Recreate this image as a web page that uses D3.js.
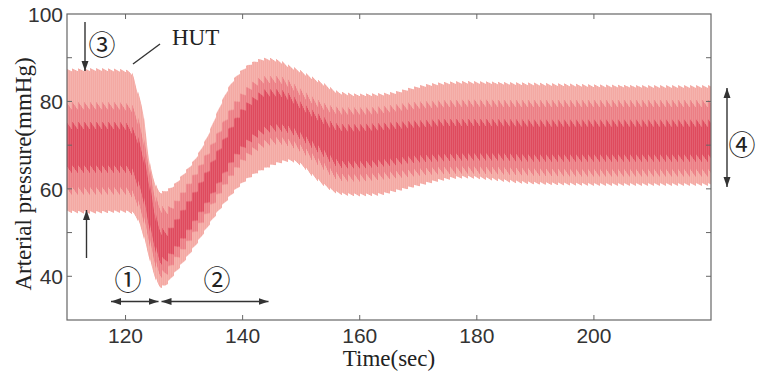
<!DOCTYPE html>
<html><head><meta charset="utf-8">
<script src="https://cdn.jsdelivr.net/npm/d3@7"></script>
<style>body{margin:0;background:#fff}</style>
</head><body>
<svg id="c" width="757" height="374"></svg>
<script>
// ---- data ----
const time      = [110,114,118,120,121,122,123,124,125,126,127,128,130,132,134,136,138,140,142,144,146,148,150,152,154,156,158,160,163,166,169,172,175,178,182,186,190,195,200,205,210,215,220];
const upper     = [87.2,87.3,87.2,87.0,86.5,82.5,77.5,67,61.5,59.2,59.6,60.5,63.5,67,72,78.5,84,87.2,89,89.7,89.3,88,86.8,85.3,83.8,82.2,81.7,81.5,81.6,82,83,83.8,84.2,84.4,84.3,84.1,84,83.8,83.6,83.5,83.4,83.4,83.4];
const lower     = [54.8,54.6,54.8,54.8,54.6,53.2,49.5,44.5,40,37.6,38.2,40,43.5,47.2,51.3,55.2,58.6,61.4,63.4,64.8,65.9,66.5,65.5,63,60.8,59.2,58.7,58.6,58.7,59.5,60.5,61.5,62.3,62.7,62.3,61.7,61.3,61.1,61,61,61,61,61];
const midUpper  = [79,79,79,78.8,78.5,76,71.5,65,58.5,55.5,55,56,59.5,63.5,68,73,78,81.5,84,85,85,84,82,80.2,78.8,78,77.8,77.8,78,78.5,79,79.3,79.5,79.6,79.6,79.5,79.5,79.5,79.5,79.5,79.5,79.5,79.5];
const midLower  = [59.5,59.5,59.5,59.5,59,57,53.5,48.5,43.5,40.5,41,43,46.5,50.5,54.5,59,63,66.5,69,70.5,71,70.5,69.2,67.2,65,63,62.5,62.5,62.8,63.2,63.6,64,64.2,64.3,64.2,64,63.8,63.7,63.6,63.6,63.6,63.6,63.6];
const coreUpper = [74.5,74.5,74.5,74.3,73.5,71.5,67.5,61.5,54.5,50.5,50,51.5,55.5,59.5,64,69,74,78,80.5,82,82,81,79,77.2,75.5,74.2,74,74,74.2,74.5,74.8,75,75.2,75.2,75.2,75.1,75,75,75,75,75,75,75];
const coreLower = [64.5,64.5,64.5,64.5,64,61.5,58,52,47,43.5,44,45.5,49,53,57,61.5,66,69.5,72,73.5,74,73.5,72,70,68,66,65.5,65.5,65.8,66.2,66.7,67,67.2,67.3,67.3,67.2,67,67,67,67,67,67,67];
const xTicks = [120,140,160,180,200];
const yTicks = [40,50,60,70,80,90];
const yLabels = [40,60,80,100];

// ---- layout ----
const svg = d3.select('#c');
const L = 67, R = 711, T = 14, B = 320;
const x = d3.scaleLinear([110,220],[L,R]);
const y = d3.scaleLinear([30,100],[B,T]);
const defs = svg.append('defs');

defs.append('clipPath').attr('id','plotclip').append('rect')
  .attr('x',L).attr('y',T).attr('width',R-L).attr('height',B-T);

// stripe masks for saw-tooth texture (6px period)
const P = 6;
d3.range(P).forEach(k=>{
  const p = defs.append('pattern').attr('id','sp'+k).attr('patternUnits','userSpaceOnUse')
    .attr('x',0).attr('y',0).attr('width',P).attr('height',10);
  p.append('rect').attr('x',k).attr('y',0).attr('width',1).attr('height',10).attr('fill','#fff').attr('shape-rendering','crispEdges');
  defs.append('mask').attr('id','sm'+k).attr('maskUnits','userSpaceOnUse')
    .attr('x',0).attr('y',0).attr('width',757).attr('height',374)
    .append('rect').attr('x',0).attr('y',0).attr('width',757).attr('height',374).attr('fill','url(#sp'+k+')');
});
const fine = defs.append('pattern').attr('id','fine').attr('patternUnits','userSpaceOnUse')
  .attr('width',2).attr('height',10);
fine.append('rect').attr('x',0).attr('y',0).attr('width',1).attr('height',10).attr('fill','#fff').attr('opacity',0.12);

const idx = d3.range(time.length);
const band = (lo, hi) => d3.area().x(i=>x(time[i])).y0(i=>y(lo[i])).y1(i=>y(hi[i])).curve(d3.curveMonotoneX)(idx);

const g = svg.append('g').attr('clip-path','url(#plotclip)');
const saw = [-1,-0.6,-0.2,0.2,0.6,1.0];
function sawBand(lo, hi, color, amp){
  const d = band(lo,hi);
  const gg = g.append('g');
  d3.range(P).forEach(k=>{
    gg.append('path').attr('d',d).attr('fill',color)
      .attr('transform',`translate(0,${saw[k]*amp})`).attr('mask','url(#sm'+k+')');
  });
}
sawBand(lower, upper, '#f4a9a3', 1.2);
sawBand(midLower, midUpper, '#ec7e84', 3.5);
sawBand(coreLower, coreUpper, '#df4a5d', 3.5);
g.append('path').attr('d',band(lower,upper)).attr('fill','url(#fine)');

// ---- frame & ticks ----
const axc = '#666';
svg.append('rect').attr('x',L).attr('y',T).attr('width',R-L).attr('height',B-T)
  .attr('fill','none').attr('stroke',axc).attr('stroke-width',1.2);
const tk = svg.append('g').attr('stroke',axc).attr('stroke-width',1);
xTicks.forEach(v=>{
  tk.append('line').attr('x1',x(v)).attr('x2',x(v)).attr('y1',B).attr('y2',B-5);
  tk.append('line').attr('x1',x(v)).attr('x2',x(v)).attr('y1',T).attr('y2',T+5);
});
yTicks.forEach(v=>{
  tk.append('line').attr('x1',L).attr('x2',L+5).attr('y1',y(v)).attr('y2',y(v));
  tk.append('line').attr('x1',R).attr('x2',R-5).attr('y1',y(v)).attr('y2',y(v));
});
const lab = svg.append('g').attr('font-family','Liberation Sans, Arial, sans-serif').attr('font-size',21).attr('fill','#333');
xTicks.forEach(v=>{
  lab.append('text').attr('x',x(v)).attr('y',343).attr('text-anchor','middle').text(v);
});
yLabels.forEach(v=>{
  lab.append('text').attr('x',L-4).attr('y',y(v)+8).attr('text-anchor','end').text(v);
});
svg.append('text').attr('x',(L+R)/2).attr('y',366).attr('text-anchor','middle')
  .attr('font-family','Liberation Serif, Times New Roman, serif').attr('font-size',23).attr('fill','#222').text('Time(sec)');
svg.append('text').attr('transform','translate(31,174) rotate(-90)').attr('text-anchor','middle')
  .attr('font-family','Liberation Serif, Times New Roman, serif').attr('font-size',23).attr('fill','#222').text('Arterial pressure(mmHg)');

// ---- annotations ----
defs.append('marker').attr('id','ah').attr('viewBox','0 0 10 10').attr('refX',10).attr('refY',5)
  .attr('markerWidth',10).attr('markerHeight',10).attr('markerUnits','userSpaceOnUse')
  .attr('orient','auto-start-reverse')
  .append('path').attr('d','M0,1.5 L10,5 L0,8.5 Z').attr('fill','#333');
const an = svg.append('g').attr('stroke','#333').attr('stroke-width',1.4).attr('fill','none');
an.append('line').attr('x1',85).attr('y1',22).attr('x2',85).attr('y2',71).attr('marker-end','url(#ah)');
an.append('line').attr('x1',86.5).attr('y1',258).attr('x2',86.5).attr('y2',210).attr('marker-end','url(#ah)');
an.append('line').attr('x1',133).attr('y1',64).attr('x2',160).attr('y2',44);
an.append('line').attr('x1',111).attr('y1',301.5).attr('x2',158.5).attr('y2',301.5).attr('marker-start','url(#ah)').attr('marker-end','url(#ah)');
an.append('line').attr('x1',161.5).attr('y1',301.5).attr('x2',268.5).attr('y2',301.5).attr('marker-start','url(#ah)').attr('marker-end','url(#ah)');
an.append('line').attr('x1',727).attr('y1',88).attr('x2',727).attr('y2',187).attr('marker-start','url(#ah)').attr('marker-end','url(#ah)');

const ct = svg.append('g').attr('font-family','Noto Sans CJK JP, DejaVu Sans, sans-serif').attr('font-size',27)
  .attr('fill','#222').attr('text-anchor','middle').attr('dominant-baseline','central');
ct.append('text').attr('x',102).attr('y',43).text('③');
ct.append('text').attr('x',128).attr('y',278).text('①');
ct.append('text').attr('x',217).attr('y',278).text('②');
ct.append('text').attr('x',742).attr('y',143).text('④');
svg.append('text').attr('x',172).attr('y',45).attr('font-family','Liberation Serif, Times New Roman, serif')
  .attr('font-size',23).attr('fill','#222').text('HUT');
</script>
</body></html>
